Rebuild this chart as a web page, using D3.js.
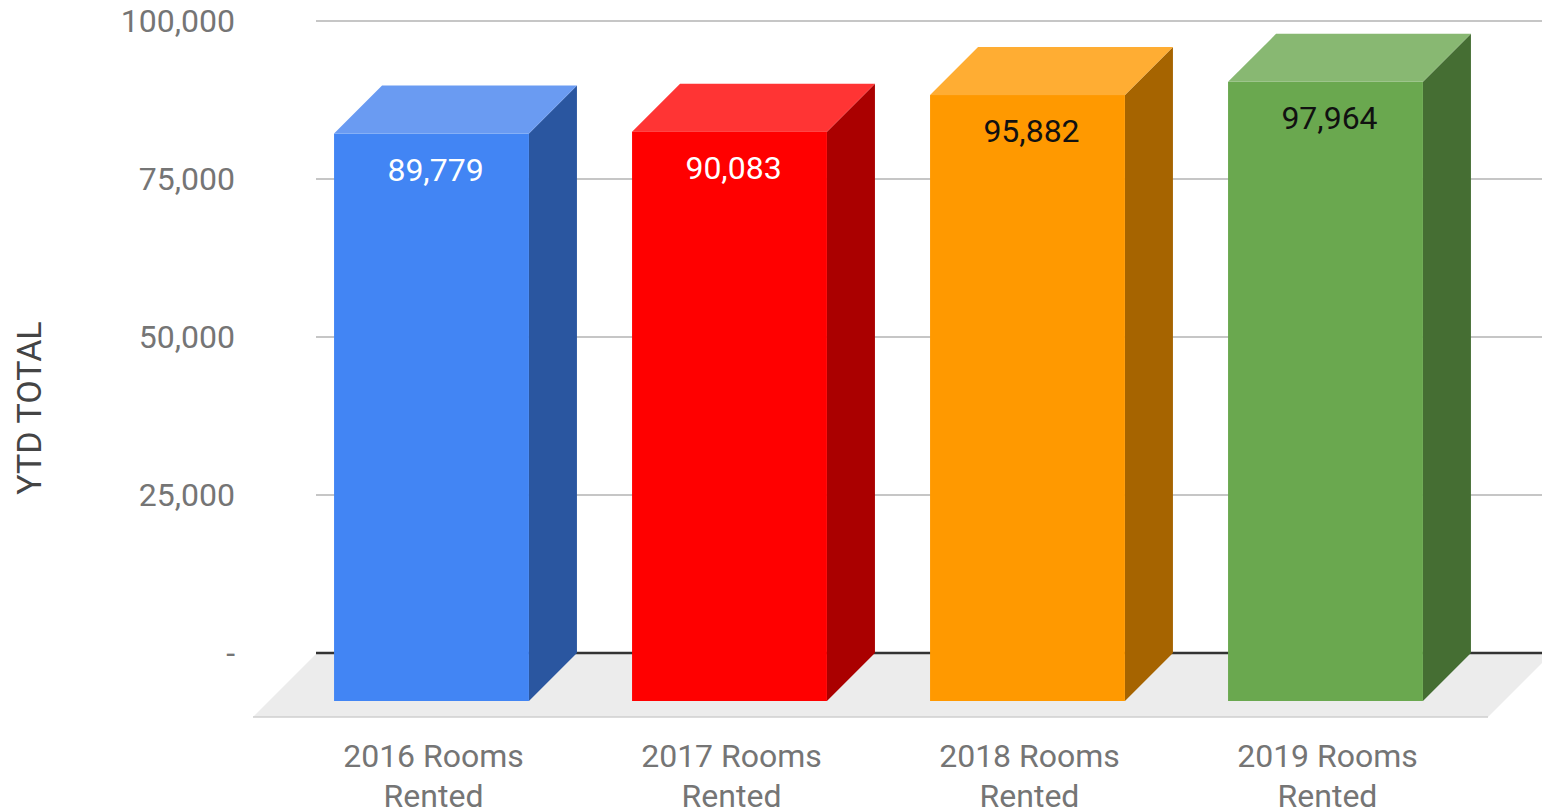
<!DOCTYPE html>
<html>
<head>
<meta charset="utf-8">
<script src="https://cdn.jsdelivr.net/npm/d3@7"></script>
<style>
  html, body { margin: 0; padding: 0; background: #fff; overflow: hidden; }
  svg { display: block; font-family: Roboto, "Noto Sans", sans-serif; }
</style>
</head>
<body>
<div id="viewportContainer"></div>
<script>
/* --- data --- */
const categories = ["2016 Rooms Rented", "2017 Rooms Rented", "2018 Rooms Rented", "2019 Rooms Rented"];
const values = [89779, 90083, 95882, 97964];
const yTicks = [0, 25000, 50000, 75000, 100000];
const frontColors = ["#4285f4", "#ff0000", "#ff9900", "#6aa84f"];
const topColors = ["#6a9bf2", "#ff3434", "#ffad33", "#88b872"];
const sideColors = ["#2a56a0", "#aa0000", "#a66400", "#456e33"];
const labelColors = ["#ffffff", "#ffffff", "#111111", "#111111"];
const yTitle = "YTD TOTAL";

/* --- viewport --- */
const viewport = {width: 1542, height: 811};
const depth = {dx: 48, dy: 48};       // bar depth
const floorDepth = {dx: 63, dy: 64};  // floor depth
const wall = {left: 316, right: 1551, top: 21, bottom: 653};

const svg = d3.select("#viewportContainer").append("svg")
    .attr("width", viewport.width)
    .attr("height", viewport.height);

/* --- scales --- */
// back wall y scale
const yScale = d3.scaleLinear().domain([0, 100000]).range([wall.bottom, wall.top]);

// front plane x scale
const xScale = d3.scaleBand()
    .domain(categories)
    .range([253, 1504])
    .paddingInner(0.346)
    .paddingOuter(0.272);

/* --- gridlines --- */
svg.append("g").selectAll("line")
    .data(yTicks.filter(d => d > 0))
    .enter().append("line")
    .attr("x1", wall.left).attr("x2", wall.right)
    .attr("y1", d => yScale(d)).attr("y2", d => yScale(d))
    .attr("stroke", "#c6c6c6")
    .attr("stroke-width", 2);

/* --- floor --- */
const fy = yScale(0);
svg.append("path")
    .attr("d", `M${wall.left},${fy + 1} L${wall.right},${fy + 1} L${wall.right - floorDepth.dx},${fy + floorDepth.dy} L${wall.left - floorDepth.dx},${fy + floorDepth.dy} Z`)
    .attr("fill", "#ececec");
svg.append("line")
    .attr("x1", wall.left - floorDepth.dx).attr("x2", wall.right - floorDepth.dx)
    .attr("y1", fy + floorDepth.dy).attr("y2", fy + floorDepth.dy)
    .attr("stroke", "#cfcfcf").attr("stroke-width", 1.5);

/* --- baseline --- */
svg.append("line")
    .attr("x1", wall.left).attr("x2", wall.right)
    .attr("y1", fy).attr("y2", fy)
    .attr("stroke", "#333333")
    .attr("stroke-width", 2.5);

/* --- y axis labels --- */
const yAxis = d3.axisLeft(yScale)
    .tickValues(yTicks)
    .tickSize(0)
    .tickPadding(0)
    .tickFormat(d => d === 0 ? "-" : d3.format(",")(d));

const yAxisG = svg.append("g")
    .attr("transform", "translate(235,0)")
    .call(yAxis);
yAxisG.select(".domain").remove();
yAxisG.selectAll("text")
    .attr("font-size", 32)
    .attr("font-family", "Roboto, sans-serif")
    .attr("fill", "#757575");

svg.append("text")
    .attr("transform", "translate(41,408) rotate(-90)")
    .attr("text-anchor", "middle")
    .attr("font-size", 34)
    .attr("fill", "#444444")
    .text(yTitle);

/* --- bars --- */
const bars = svg.append("g").selectAll("g")
    .data(categories)
    .enter().append("g");

// front face coordinates
const fx0 = d => xScale(d);
const fx1 = d => xScale(d) + xScale.bandwidth();
const fTop = (d, i) => yScale(values[i]) + depth.dy;
const fBot = () => yScale(0) + depth.dy;

bars.append("path") // side
    .attr("d", (d, i) => `M${fx1(d)},${fTop(d, i)} L${fx1(d) + depth.dx},${fTop(d, i) - depth.dy} L${fx1(d) + depth.dx},${fBot() - depth.dy} L${fx1(d)},${fBot()} Z`)
    .attr("fill", (d, i) => sideColors[i]);

bars.append("path") // top
    .attr("d", (d, i) => `M${fx0(d)},${fTop(d, i)} L${fx0(d) + depth.dx},${fTop(d, i) - depth.dy} L${fx1(d) + depth.dx},${fTop(d, i) - depth.dy} L${fx1(d)},${fTop(d, i)} Z`)
    .attr("fill", (d, i) => topColors[i]);

bars.append("rect") // front
    .attr("x", d => fx0(d))
    .attr("y", (d, i) => fTop(d, i))
    .attr("width", xScale.bandwidth())
    .attr("height", (d, i) => fBot() - fTop(d, i))
    .attr("fill", (d, i) => frontColors[i]);

bars.append("text")
    .attr("x", d => fx0(d) + xScale.bandwidth() / 2 + 4)
    .attr("y", (d, i) => fTop(d, i) + 47)
    .attr("text-anchor", "middle")
    .attr("font-size", 32)
    .attr("fill", (d, i) => labelColors[i])
    .text((d, i) => d3.format(",")(values[i]));

/* --- category labels --- */
const catLabels = svg.append("g").selectAll("text")
    .data(categories)
    .enter().append("text")
    .attr("text-anchor", "middle")
    .attr("font-size", 32)
    .attr("fill", "#757575");

catLabels.each(function(d) {
    const words = d.split(" ");
    const t = d3.select(this);
    const cx = xScale(d) + xScale.bandwidth() / 2 + 2;
    t.append("tspan").attr("x", cx).attr("y", 767).text(words[0] + " " + words[1]);
    t.append("tspan").attr("x", cx).attr("y", 807).text(words.slice(2).join(" "));
});
</script>
</body>
</html>
